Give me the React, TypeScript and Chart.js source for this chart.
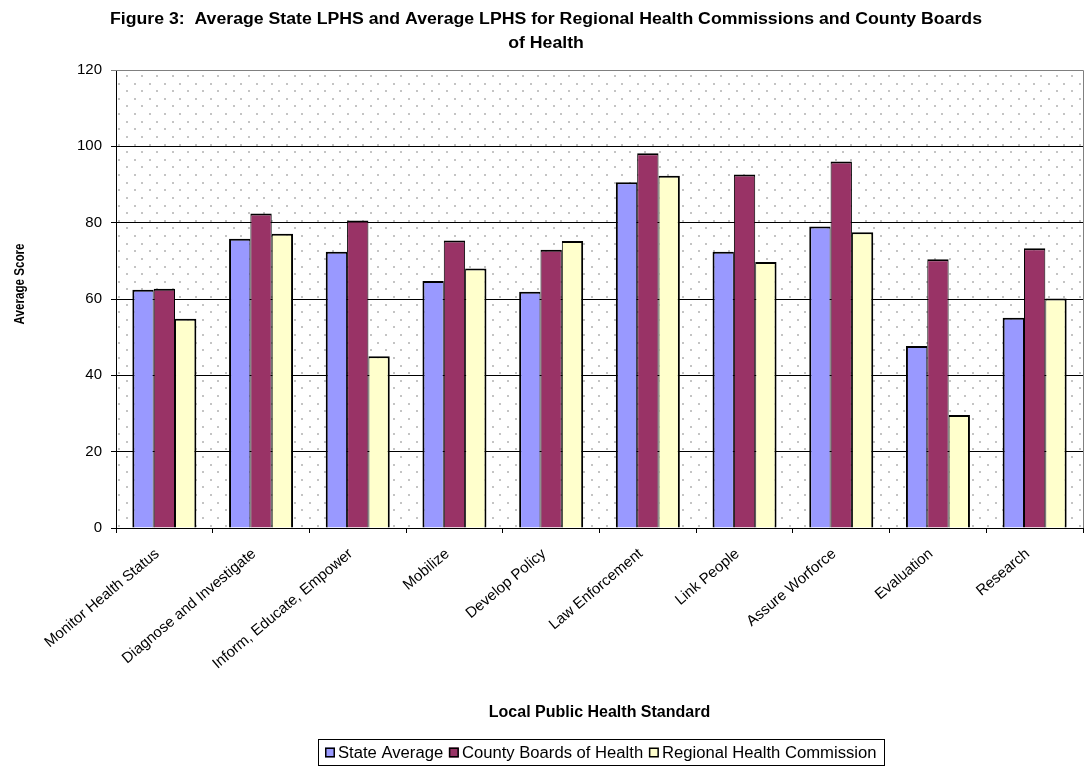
import { useEffect, useRef } from "react";
import { Chart, registerables } from "chart.js";

Chart.register(...registerables);

// Local public health standards (categories) and the three averaged series
const categories = [
  "Monitor Health Status",
  "Diagnose and Investigate",
  "Inform, Educate, Empower",
  "Mobilize",
  "Develop Policy",
  "Law Enforcement",
  "Link People",
  "Assure Worforce",
  "Evaluation",
  "Research",
];
const stateAverage = [62.4, 75.8, 72.4, 64.7, 61.9, 90.6, 72.4, 79.0, 47.7, 55.1];
const countyBoards = [62.7, 82.4, 80.6, 75.3, 72.9, 98.2, 92.6, 96.0, 70.4, 73.3];
const regionalCommission = [54.8, 77.1, 45.0, 68.0, 75.2, 92.3, 69.7, 77.5, 29.6, 60.1];

const seriesNames = ["State Average", "County Boards of Health", "Regional Health Commission"];
const seriesColors = ["#9999FF", "#993366", "#FFFFCC"];

const yMin = 0;
const yMax = 120;
const yStep = 20;

const titleLines = [
  "Figure 3:  Average State LPHS and Average LPHS for Regional Health Commissions and County Boards",
  "of Health",
];
const xAxisTitle = "Local Public Health Standard";
const yAxisTitle = "Average Score";

const FONT = '"Liberation Sans", Arial, Helvetica, sans-serif';

// Stippled plot-area fill, painted before grid lines and bars
const stipplePlugin = {
  id: "stipple",
  beforeDraw(chart: any) {
    const { ctx, chartArea } = chart;
    const { left, top, right, bottom } = chartArea;
    ctx.save();
    ctx.fillStyle = "#ffffff";
    ctx.fillRect(left, top, right - left, bottom - top);
    ctx.fillStyle = "#c4c4c4";
    const dy = 7.62;
    const dx = 15.24;
    let row = 0;
    for (let y = top + 5; y < bottom - 1; y += dy, row++) {
      const x0 = left + 10 - (row % 2 ? dx / 2 : 0);
      for (let x = x0; x < right - 2; x += dx) {
        if (x > left + 1) ctx.fillRect(Math.round(x), Math.round(y), 2, 2);
      }
    }
    ctx.restore();
  },
};

// Title, axis titles, plot frame and boxed legend
const decorPlugin = {
  id: "decor",
  afterDraw(chart: any) {
    const { ctx, chartArea } = chart;
    const { left, top, right, bottom } = chartArea;
    ctx.save();

    // gray frame on the top and right of the plot area
    ctx.strokeStyle = "#808080";
    ctx.lineWidth = 1;
    ctx.beginPath();
    ctx.moveTo(left, top + 0.5);
    ctx.lineTo(right + 0.5, top + 0.5);
    ctx.lineTo(right + 0.5, bottom);
    ctx.stroke();

    ctx.fillStyle = "#000";

    // chart title (two lines)
    ctx.font = `bold 16px ${FONT}`;
    ctx.textAlign = "center";
    ctx.textBaseline = "alphabetic";
    const natural = ctx.measureText(titleLines[0]).width;
    const sx = 872 / natural;
    const titleBaselines = [24.3, 48];
    titleLines.forEach((line, i) => {
      ctx.save();
      ctx.translate(546, titleBaselines[i]);
      ctx.scale(sx, 1);
      ctx.fillText(line, 0, 0);
      ctx.restore();
    });

    // x axis title
    ctx.font = `bold 16px ${FONT}`;
    ctx.textAlign = "center";
    ctx.fillText(xAxisTitle, (left + right) / 2, 717);

    // y axis title (rotated, compressed along its length)
    ctx.save();
    ctx.translate(20, 284);
    ctx.rotate(-Math.PI / 2);
    ctx.font = `bold 14px ${FONT}`;
    ctx.textAlign = "center";
    ctx.textBaseline = "middle";
    const yw = ctx.measureText(yAxisTitle).width;
    ctx.scale(81 / yw, 1);
    ctx.fillText(yAxisTitle, 0, 0);
    ctx.restore();

    // legend
    ctx.font = `16px ${FONT}`;
    ctx.textAlign = "left";
    ctx.textBaseline = "middle";
    const marker = 10;
    const markerGap = 3;
    const itemGap = 5;
    const widths = seriesNames.map((n) => ctx.measureText(n).width);
    const content =
      widths.reduce((a, w) => a + marker + markerGap + w, 0) + itemGap * (seriesNames.length - 1);
    const targetContent = 552;
    const lsx = targetContent / content;
    const pad = 7;
    const cx = 601;
    const boxLeft = Math.round(cx - targetContent / 2 - pad);
    const boxRight = Math.round(cx + targetContent / 2 + pad);
    const boxTop = 739.5;
    const boxBottom = 765.5;
    ctx.fillStyle = "#fff";
    ctx.fillRect(boxLeft, boxTop, boxRight - boxLeft, boxBottom - boxTop);
    ctx.strokeStyle = "#000";
    ctx.lineWidth = 1;
    ctx.strokeRect(boxLeft + 0.5, boxTop, boxRight - boxLeft, boxBottom - boxTop);
    const midY = (boxTop + boxBottom) / 2;
    let x = boxLeft + pad;
    seriesNames.forEach((name, i) => {
      ctx.fillStyle = seriesColors[i];
      ctx.fillRect(x, midY - marker / 2, marker, marker);
      ctx.strokeStyle = "#000";
      ctx.lineWidth = 1.5;
      ctx.strokeRect(x + 0.75, midY - marker / 2 + 0.75, marker - 1.5, marker - 1.5);
      ctx.fillStyle = "#000";
      ctx.save();
      ctx.translate(x + marker + markerGap, midY + 1);
      ctx.scale(lsx, 1);
      ctx.fillText(name, 0, 0);
      ctx.restore();
      x += (marker + markerGap + widths[i] + itemGap) * lsx;
    });

    ctx.restore();
  },
};

export default function App() {
  const canvasRef = useRef<HTMLCanvasElement | null>(null);

  useEffect(() => {
    const canvas = canvasRef.current;
    if (!canvas) return;

    const chart = new Chart(canvas, {
      type: "bar",
      data: {
        labels: categories,
        datasets: [
          {
            label: seriesNames[0],
            data: stateAverage,
            backgroundColor: seriesColors[0],
            borderColor: "#000",
            borderWidth: { top: 2, left: 2, right: 1, bottom: 0 },
            borderSkipped: "start",
          },
          {
            label: seriesNames[1],
            data: countyBoards,
            backgroundColor: seriesColors[1],
            borderColor: "#000",
            borderWidth: { top: 2, left: 1, right: 1, bottom: 0 },
            borderSkipped: "start",
          },
          {
            label: seriesNames[2],
            data: regionalCommission,
            backgroundColor: seriesColors[2],
            borderColor: "#000",
            borderWidth: { top: 2, left: 1, right: 2, bottom: 0 },
            borderSkipped: "start",
          },
        ],
      },
      plugins: [stipplePlugin, decorPlugin],
      options: {
        responsive: false,
        animation: false,
        devicePixelRatio: 1,
        layout: { padding: { top: 70, right: 6, left: 0, bottom: 0 } },
        datasets: {
          bar: { categoryPercentage: 0.662, barPercentage: 1.0 },
        },
        plugins: {
          legend: { display: false },
          title: { display: false },
          tooltip: { enabled: false },
        },
        scales: {
          x: {
            afterFit: (scale: any) => {
              scale.height = 239;
            },
            grid: {
              display: true,
              offset: true,
              drawOnChartArea: false,
              drawTicks: true,
              tickLength: 5,
              color: "#000",
            },
            border: { display: true, color: "#000", width: 1 },
            ticks: {
              autoSkip: false,
              minRotation: 40,
              maxRotation: 40,
              padding: 12,
              labelOffset: -7,
              color: "#000",
              font: { family: FONT, size: 15 },
            },
          },
          y: {
            min: yMin,
            max: yMax,
            afterFit: (scale: any) => {
              scale.width = 116;
            },
            grid: {
              drawTicks: true,
              tickLength: 5,
              color: (c: any) => (c.tick && c.tick.value === yMax ? "#808080" : "#000"),
              lineWidth: 1,
            },
            border: { display: true, color: "#000", width: 1 },
            ticks: {
              stepSize: yStep,
              padding: 9,
              color: "#000",
              font: { family: FONT, size: 15 },
            },
          },
        },
      },
    });

    return () => chart.destroy();
  }, []);

  return (
    <div style={{ position: "absolute", left: 0, top: 0, width: 1089, height: 767, background: "#fff" }}>
      <canvas ref={canvasRef} width={1089} height={767} style={{ display: "block" }} />
    </div>
  );
}
